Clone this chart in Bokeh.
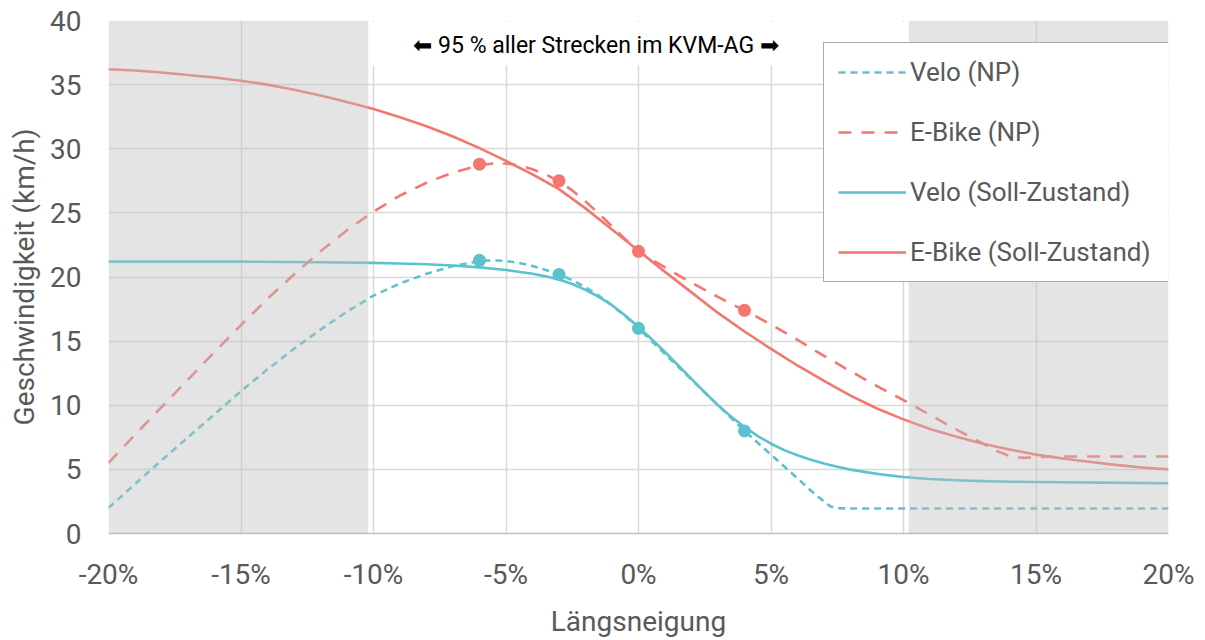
from bokeh.plotting import figure
from bokeh.models import Range1d, Legend, LegendItem, BoxAnnotation, FixedTicker, Label
from bokeh.embed import file_html
from bokeh.resources import INLINE

# ---------------- data ----------------
x_ticks = [-20, -15, -10, -5, 0, 5, 10, 15, 20]
x_tick_labels = ["-20%", "-15%", "-10%", "-5%", "0%", "5%", "10%", "15%", "20%"]
y_ticks = [0, 5, 10, 15, 20, 25, 30, 35, 40]

velo_np_x = [-20, -19, -18, -17, -16, -15, -14, -13, -12, -11, -10, -9, -8, -7, -6, -5.5, -5, -4.5, -4,
             -3.5, -3, -2.5, -2, -1.5, -1, -0.5, 0, 1, 2, 3, 4, 5, 6, 6.5, 7, 7.25, 7.5, 8, 20]
velo_np_y = [2.0, 3.85, 5.7, 7.5, 9.3, 11.1, 12.8, 14.4, 15.9, 17.3, 18.55, 19.5, 20.25, 20.85, 21.25, 21.3, 21.25,
             21.1, 20.85, 20.55, 20.2, 19.75, 19.2, 18.55, 17.8, 16.95, 16.0, 14.0, 12.0, 10.0, 8.0, 6.15, 4.3,
             3.35, 2.5, 2.1, 1.97, 1.95, 1.95]

ebike_np_x = [-20, -19, -18, -17, -16, -15, -14, -13, -12, -11, -10, -9, -8, -7, -6, -5.5, -5, -4.5, -4,
              -3.5, -3, -2.5, -2, -1.5, -1, -0.5, 0, 0.5, 1, 1.5, 2, 2.5, 3, 3.5, 4, 4.5, 5, 6, 7, 8, 9, 10,
              11, 12, 12.5, 13, 13.5, 14, 14.5, 15, 16, 20]
ebike_np_y = [5.5, 7.7, 9.85, 12.0, 14.15, 16.25, 18.3, 20.2, 22.0, 23.65, 25.1, 26.35, 27.35, 28.15, 28.7, 28.85,
              28.85, 28.7, 28.4, 28.0, 27.45, 26.75, 25.9, 24.95, 23.95, 22.95, 22.0, 21.35, 20.75, 20.15, 19.55,
              19.0, 18.45, 17.9, 17.4, 16.85, 16.3, 15.1, 13.85, 12.65, 11.5, 10.4, 9.25, 8.1, 7.55, 7.0, 6.45,
              6.05, 5.9, 5.95, 6.0, 6.0]

velo_soll_x = [-20, -15, -12, -10, -9, -8, -7, -6, -5, -4, -3.5, -3, -2.5, -2, -1.5, -1, -0.5, 0, 0.5, 1,
               1.5, 2, 2.5, 3, 3.5, 4, 4.5, 5, 5.5, 6, 6.5, 7, 7.5, 8, 9, 10, 11, 12, 13, 14, 15, 17.5, 20]
velo_soll_y = [21.2, 21.2, 21.15, 21.1, 21.05, 21.0, 20.9, 20.75, 20.55, 20.25, 20.05, 19.8, 19.45, 19.0, 18.45,
               17.8, 17.0, 16.1, 15.15, 14.15, 13.1, 12.05, 11.0, 10.0, 9.1, 8.3, 7.6, 7.0, 6.5, 6.1, 5.75, 5.45,
               5.2, 4.98, 4.65, 4.4, 4.25, 4.15, 4.08, 4.04, 4.02, 3.97, 3.92]

ebike_soll_x = [-20, -19, -18, -17, -16, -15, -14, -13, -12, -11, -10, -9, -8, -7, -6, -5, -4, -3, -2, -1,
                0, 1, 2, 3, 4, 5, 6, 7, 8, 9, 10, 11, 12, 13, 14, 15, 16, 17, 18, 19, 20]
ebike_soll_y = [36.2, 36.1, 35.95, 35.75, 35.55, 35.3, 35.0, 34.6, 34.15, 33.65, 33.1, 32.45, 31.75, 30.95,
                30.05, 29.05, 28.0, 26.85, 25.35, 23.7, 22.05, 20.4, 18.8, 17.2, 15.75, 14.4, 13.1, 11.9, 10.75,
                9.75, 8.9, 8.15, 7.55, 7.0, 6.55, 6.15, 5.85, 5.6, 5.35, 5.15, 5.0]

marker_x = [-6, -3, 0, 4]
velo_np_markers = [21.3, 20.2, 16.0, 8.0]
ebike_np_markers = [28.8, 27.5, 22.0, 17.4]

shaded_ranges = [(-20, -10.2), (10.2, 20)]
annotation_box = (-10.2, 10.2, 36.5, 39.9)
annotation_text = "\u2B05 95 % aller Strecken im KVM-AG \u27A1"

CYAN = "#5BC2CE"
RED = "#F4776F"
TXT = "#595959"
FONT = "Roboto"

# ---------------- figure ----------------
p = figure(width=1205, height=640, x_range=Range1d(-20, 20), y_range=Range1d(0, 40),
           output_backend="svg", toolbar_location=None,
           min_border_left=108, min_border_right=37, min_border_top=20, min_border_bottom=103)
p.outline_line_color = None
p.background_fill_color = "white"
p.border_fill_color = "white"

for ax in (p.xaxis[0], p.yaxis[0]):
    ax.major_tick_line_color = None
    ax.minor_tick_line_color = None
    ax.major_tick_out = 0
    ax.major_tick_in = 0
    ax.major_label_text_font = FONT
    ax.major_label_text_font_size = "28px"
    ax.major_label_text_color = TXT
    ax.axis_label_text_font = FONT
    ax.axis_label_text_font_size = "28px"
    ax.axis_label_text_color = TXT
    ax.axis_label_text_font_style = "normal"

p.xaxis.ticker = FixedTicker(ticks=x_ticks)
p.xaxis.major_label_overrides = {t: lab for t, lab in zip(x_ticks, x_tick_labels)}
p.xaxis.axis_label = "Längsneigung"
p.xaxis.axis_line_color = "#BFBFBF"
p.xaxis.axis_line_width = 1.5
p.xaxis.major_label_standoff = 24
p.xaxis.axis_label_standoff = 11

p.yaxis.ticker = FixedTicker(ticks=y_ticks)
p.yaxis.axis_label = "Geschwindigkeit (km/h)"
p.yaxis.axis_line_color = None
p.yaxis.major_label_standoff = 27
p.yaxis.axis_label_standoff = 6

p.xgrid.ticker = FixedTicker(ticks=x_ticks)
p.ygrid.ticker = FixedTicker(ticks=y_ticks)
for g in (p.xgrid[0], p.ygrid[0]):
    g.grid_line_color = "#D9D9D9"
    g.grid_line_width = 1.5

# white box behind the annotation text (hides gridlines there)
p.quad(left=[annotation_box[0]], right=[annotation_box[1]], bottom=[annotation_box[2]], top=[annotation_box[3]],
       fill_color="white", line_color=None)

# ---------------- series ----------------
r_velo_np = p.line(velo_np_x, velo_np_y, line_color=CYAN, line_width=2.6, line_dash="7 5", line_join="round")
r_ebike_np = p.line(ebike_np_x, ebike_np_y, line_color=RED, line_width=2.6, line_dash="13 10", line_join="round")
r_velo_soll = p.line(velo_soll_x, velo_soll_y, line_color=CYAN, line_width=2.6, line_join="round")
r_ebike_soll = p.line(ebike_soll_x, ebike_soll_y, line_color=RED, line_width=2.6, line_join="round")
p.scatter(marker_x, velo_np_markers, size=13, color=CYAN, line_color=None)
p.scatter(marker_x, ebike_np_markers, size=13, color=RED, line_color=None)

# grey shading on top (semi-transparent, as in reference)
for lo, hi in shaded_ranges:
    p.add_layout(BoxAnnotation(left=lo, right=hi, bottom=0, top=40, fill_color="#BFBFBF",
                               fill_alpha=0.42, line_color=None))

p.add_layout(Label(x=-1.6, y=38.05, text=annotation_text, text_align="center", text_baseline="middle",
                   text_font=FONT, text_font_size="23px", text_color="black"))

legend = Legend(items=[
    LegendItem(label="Velo (NP)", renderers=[r_velo_np]),
    LegendItem(label="E-Bike (NP)", renderers=[r_ebike_np]),
    LegendItem(label="Velo (Soll-Zustand)", renderers=[r_velo_soll]),
    LegendItem(label="E-Bike (Soll-Zustand)", renderers=[r_ebike_soll]),
], location=(715, 251))
legend.label_text_font = FONT
legend.label_text_font_size = "26px"
legend.label_text_color = TXT
legend.glyph_width = 68
legend.glyph_height = 28
legend.label_height = 28
legend.label_width = 245
legend.label_standoff = 4
legend.spacing = 30
legend.padding = 14
legend.margin = 0
legend.border_line_color = "#595959"
legend.border_line_width = 1.5
legend.background_fill_color = "white"
legend.background_fill_alpha = 1.0
p.add_layout(legend, "center")

open("out.html", "w").write(file_html(p, INLINE))
